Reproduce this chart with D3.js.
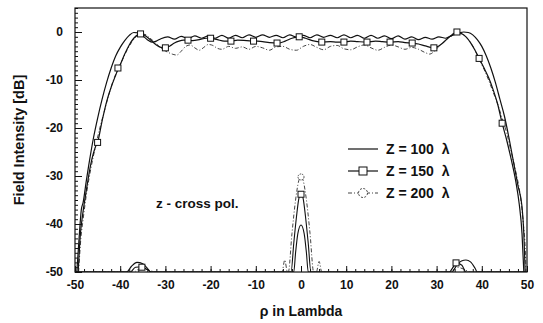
<!DOCTYPE html>
<html>
<head>
<meta charset="utf-8">
<script src="https://cdn.jsdelivr.net/npm/d3@7"></script>
<style>
  body { margin: 0; background: #fff; }
  text { font-family: "Liberation Sans", Arial, sans-serif; font-weight: bold; fill: #111; }
</style>
</head>
<body>
<script>
// co-polar curves (rho in lambda, field in dB)
var rho100 = [-49.6,-49.1,-48.6,-48.2,-47.5,-47,-46,-45,-44,-43,-42,-41,-40,-39,-38,-37,-36,-35,-34,-33,-32,-31,-29.5,-28,-26.5,-25,-23.5,-22,-20.5,-19,-17.5,-16,-14.5,-13,-11.5,-10,-8.5,-7,-5.5,-4,-2.5,-1,0.5,2,3.5,5,6.5,8,9.5,11,12.5,14,15.5,17,18.5,20,21.5,23,24.5,26,27.5,29,30.5,32,33,34,35,36,37,38,39,40,41,42,43,44,45,46,47,48,48.9,49.3,49.6];
var db100 = [-50,-43,-37,-35.5,-31,-28,-22.5,-18,-14,-10.5,-7.5,-5,-3.2,-1.8,-0.7,-0.1,-0.2,-0.8,-1.6,-2.1,-1.9,-1.4,-1.0,-1.5,-0.9,-1.4,-0.8,-1.3,-0.8,-1.3,-0.7,-1.3,-0.7,-1.2,-0.6,-1.1,-0.6,-1.1,-0.7,-1.2,-0.6,-1.1,-0.7,-1.2,-0.6,-1.1,-0.7,-1.2,-0.6,-1.2,-0.7,-1.3,-0.7,-1.3,-0.8,-1.4,-0.8,-1.5,-1.0,-1.6,-1.1,-1.5,-1.0,-1.3,-0.9,-0.5,-0.2,0,-0.1,-0.6,-1.6,-3.0,-5,-7.5,-10.5,-14,-17.5,-22,-27,-32,-36.4,-42,-50];

var rho150 = [-49.3,-48.8,-48.3,-47.5,-46.5,-45.5,-45,-44,-43,-42,-41,-40.5,-40,-39,-38,-37,-36,-35.5,-35,-34,-33,-32,-31,-30,-29,-28,-27,-26,-25,-24,-22.5,-21,-20,-18.5,-17,-15.5,-14,-12,-10,-8.5,-7,-5,-3.5,-2,-0.5,1,2.5,4.5,6.5,8,9.5,11,12.5,14.5,16.5,18,19.7,21.5,23,24.6,26,27.5,29.4,30.5,31.5,32.5,33.5,34.5,35.5,36.5,37.5,38.5,39.4,40.5,41.5,42.5,43.5,44.5,45.5,46.5,47.5,48.3,48.9,49.3];
var db150 = [-50,-42,-38,-33,-27.5,-24,-23,-18.5,-14.5,-11.5,-9,-7.8,-6.8,-4.6,-2.7,-1.3,-0.5,-0.4,-0.5,-1.1,-1.9,-2.7,-3.2,-3.3,-2.9,-2.3,-1.9,-1.7,-1.7,-1.8,-1.6,-1.3,-1.3,-1.6,-1.9,-1.9,-1.7,-1.8,-1.9,-2.0,-2.2,-2.3,-1.9,-1.3,-1.0,-1.3,-1.8,-2.1,-2.0,-2.1,-2.1,-1.9,-2.0,-2.1,-1.9,-2.0,-2.1,-2.0,-2.2,-2.3,-2.5,-2.9,-3.3,-2.9,-2.2,-1.3,-0.5,0,-0.3,-1.0,-2.2,-3.8,-5.5,-7.5,-9.5,-12,-15,-19,-22.5,-26.5,-31,-36,-42,-50];

var rho200 = [-49.2,-48.7,-48.2,-47.5,-46.5,-45.5,-44.5,-43.5,-42.5,-41.5,-40.5,-39.5,-38.5,-37.5,-36.5,-35.5,-34.5,-33.5,-32.5,-31.5,-30.5,-29.5,-28.5,-27.5,-26.5,-25.5,-24.5,-23.5,-22.5,-21.5,-20.5,-19.5,-18.5,-17.5,-16,-14.5,-13,-11.5,-10,-8.5,-7,-5.5,-4,-2.5,-1,0.5,2,3.5,5,6.5,8,9.5,11,12.5,14,15.5,17,18.5,20,21.5,23,24.5,26,27.5,28.5,29.5,30.5,31.5,32.5,33.5,34.5,35.5,36.5,37.5,38.5,39.5,40.5,41.5,42.5,43.5,44.5,45.5,46.5,47.5,48.5,49.2,49.6,49.8];
var db200 = [-50,-43,-39,-34,-28.5,-24,-20,-16.5,-13,-10,-7.8,-5.8,-3.8,-2.2,-1.0,-0.4,-0.5,-1.2,-2.0,-2.9,-3.7,-4.2,-4.6,-4.8,-4.0,-3.0,-2.7,-3.3,-3.8,-3.2,-2.6,-2.8,-3.4,-3.6,-3.0,-3.4,-3.1,-3.6,-3.0,-3.3,-3.8,-3.1,-3.0,-3.6,-3.8,-3.0,-2.6,-3.2,-3.7,-3.0,-2.8,-3.5,-3.7,-3.1,-2.7,-3.3,-3.8,-3.2,-2.7,-3.1,-3.6,-3.2,-3.6,-4.3,-4.6,-4.0,-3.0,-2.1,-1.3,-0.7,-0.3,-0.4,-1.0,-2.2,-3.8,-5.8,-7.8,-10,-12.5,-15,-18,-21,-25,-29,-34,-40,-45,-50];

// cross-polar curves
var rhoX100 = [-50,-38.6,-37.5,-36.3,-35,-34,-33.3,-1.6,-1.2,-0.7,0,0.7,1.2,1.6,33.4,34.5,35.5,36.5,37.5,38.5,39,50];
var dbX100 = [-50,-50,-48.8,-48.0,-48.3,-49.2,-50,-50,-46,-42,-40.2,-42,-46,-50,-50,-48.5,-47.7,-47.5,-47.9,-49.2,-50,-50];
var rhoX150 = [-50,-37.8,-36.6,-35.2,-34,-33,-2.2,-1.6,-1,-0.5,0,0.5,1,1.6,2.2,32.8,33.8,34.6,35.6,36.5,50];
var dbX150 = [-50,-50,-49,-48.9,-49.5,-50,-50,-44,-38.5,-34.8,-33.6,-34.8,-38.5,-44,-50,-50,-48.8,-48.2,-48.6,-50,-50];
var rhoX200 = [-50,-37,-35.5,-34,-32,-4.2,-3.6,-3.0,-2.8,-2,-1.2,-0.5,0,0.5,1.2,2,2.8,3.4,4,4.6,33,34.5,36,37.5,50];
var dbX200 = [-50,-50,-49.2,-49.5,-50,-50,-47.5,-50,-50,-42,-35,-31,-30,-31,-35,-42,-50,-50,-47.8,-50,-50,-49,-49.4,-50,-50];

// square markers on Z = 150
var markRho150 = [-45,-40.5,-35.5,-30,-25,-20,-15.5,-10.5,-5.3,-0.4,4.6,9.5,14.6,19.7,24.6,29.4,34.5,39.4,44.5,-35.2,0,34.3];
var markDb150 = [-23,-7.5,-0.4,-3.3,-1.7,-1.3,-1.9,-1.9,-2.3,-1.0,-2.1,-2.1,-2.1,-2.1,-2.3,-3.3,0,-5.5,-19,-49,-33.8,-48.1];
var markRho200 = [0];
var markDb200 = [-30.2];

var xTicks = [-50,-40,-30,-20,-10,0,10,20,30,40,50];
var yTicks = [-50,-40,-30,-20,-10,0];
var legendLabels = ["Z = 100  \u03bb", "Z = 150  \u03bb", "Z = 200  \u03bb"];

var w = 543, h = 323;
var plotLeft = 75, plotRight = 527, plotTop = 8, plotBottom = 272;

var svg = d3.select("body").append("svg")
  .attr("width", w)
  .attr("height", h);

var x = d3.scaleLinear().domain([-50, 50]).range([plotLeft, plotRight]);
var y = d3.scaleLinear().domain([-50, 5]).range([plotBottom, plotTop]);

svg.append("clipPath").attr("id", "plot")
  .append("rect")
  .attr("x", plotLeft).attr("y", plotTop)
  .attr("width", plotRight - plotLeft).attr("height", plotBottom - plotTop);

drawAxes();
drawCurves();
drawLegend();

function plainNumber(d) {
  return String(d);  // keep ascii hyphen like the original
}

function drawAxes() {
  var minorX = d3.range(-50, 51, 2);
  var minorY = d3.range(-50, 6, 1);

  svg.append("g")
    .attr("transform", "translate(0," + plotBottom + ")")
    .call(d3.axisBottom(x).tickValues(minorX).tickSize(-3).tickFormat(""));
  var gx = svg.append("g")
    .attr("transform", "translate(0," + plotBottom + ")")
    .call(d3.axisBottom(x).tickValues(xTicks).tickSize(-6).tickPadding(8).tickFormat(plainNumber));

  svg.append("g")
    .attr("transform", "translate(" + plotLeft + ",0)")
    .call(d3.axisLeft(y).tickValues(minorY).tickSize(-3).tickFormat(""));
  var gy = svg.append("g")
    .attr("transform", "translate(" + plotLeft + ",0)")
    .call(d3.axisLeft(y).tickValues(yTicks).tickSize(-7).tickPadding(12).tickFormat(plainNumber));

  svg.selectAll(".domain").remove();
  svg.selectAll(".tick line").attr("stroke", "#111");
  gx.selectAll("text").attr("font-size", "12px").attr("font-family", null);
  gy.selectAll("text").attr("font-size", "12px").attr("font-family", null);

  svg.append("rect")
    .attr("x", plotLeft).attr("y", plotTop)
    .attr("width", plotRight - plotLeft).attr("height", plotBottom - plotTop)
    .attr("fill", "none")
    .attr("stroke", "#111")
    .attr("stroke-width", 1.2);

  svg.append("text")
    .attr("transform", "translate(24," + (plotTop + plotBottom) / 2 + ") rotate(-90)")
    .attr("text-anchor", "middle")
    .attr("font-size", "14.5px")
    .text("Field Intensity [dB]");

  svg.append("text")
    .attr("x", x(0))
    .attr("y", 316)
    .attr("text-anchor", "middle")
    .attr("font-size", "14px")
    .text("\u03c1 in Lambda");

  svg.append("text")
    .attr("x", 156)
    .attr("y", 208)
    .attr("font-size", "13.5px")
    .text("z - cross pol.");
}

function toPoints(rs, ds) {
  return rs.map(function(r, i) { return [r, ds[i]]; });
}

function drawCurves() {
  var line = d3.line()
    .x(function(d) { return x(d[0]); })
    .y(function(d) { return y(d[1]); })
    .curve(d3.curveMonotoneX);

  var g = svg.append("g").attr("clip-path", "url(#plot)");

  var series = [
    { pts: toPoints(rho200, db200), color: "#444", width: 1, dash: "4,2,1,2" },
    { pts: toPoints(rhoX200, dbX200), color: "#444", width: 1, dash: "4,2,1,2" },
    { pts: toPoints(rho150, db150), color: "#111", width: 1.2, dash: null },
    { pts: toPoints(rhoX150, dbX150), color: "#111", width: 1.1, dash: null },
    { pts: toPoints(rho100, db100), color: "#111", width: 1.2, dash: null },
    { pts: toPoints(rhoX100, dbX100), color: "#111", width: 1.1, dash: null }
  ];

  g.selectAll("path.curve")
    .data(series)
    .enter()
    .append("path")
    .classed("curve", true)
    .attr("d", function(d) { return line(d.pts); })
    .attr("fill", "none")
    .attr("stroke", function(d) { return d.color; })
    .attr("stroke-width", function(d) { return d.width; })
    .attr("stroke-dasharray", function(d) { return d.dash; });

  g.selectAll("rect.mark")
    .data(toPoints(markRho150, markDb150))
    .enter()
    .append("rect")
    .classed("mark", true)
    .attr("x", function(d) { return x(d[0]) - 3; })
    .attr("y", function(d) { return y(d[1]) - 3; })
    .attr("width", 6)
    .attr("height", 6)
    .attr("fill", "#fff")
    .attr("stroke", "#111")
    .attr("stroke-width", 1);

  g.selectAll("circle.mark")
    .data(toPoints(markRho200, markDb200))
    .enter()
    .append("circle")
    .classed("mark", true)
    .attr("cx", function(d) { return x(d[0]); })
    .attr("cy", function(d) { return y(d[1]); })
    .attr("r", 3)
    .attr("fill", "#fff")
    .attr("stroke", "#444")
    .attr("stroke-dasharray", "1.5,1");
}

function drawLegend() {
  var rows = [149, 171, 193];
  var lg = svg.append("g");

  lg.selectAll("line")
    .data(rows)
    .enter()
    .append("line")
    .attr("x1", 348).attr("x2", 378)
    .attr("y1", function(d) { return d; })
    .attr("y2", function(d) { return d; })
    .attr("stroke", function(d, i) { return i == 2 ? "#444" : "#111"; })
    .attr("stroke-width", function(d, i) { return i == 2 ? 1 : 1.2; })
    .attr("stroke-dasharray", function(d, i) { return i == 2 ? "4,2,1,2" : null; });

  lg.append("rect")
    .attr("x", 359).attr("y", rows[1] - 4)
    .attr("width", 8).attr("height", 8)
    .attr("fill", "#fff").attr("stroke", "#111");

  lg.append("circle")
    .attr("cx", 363).attr("cy", rows[2]).attr("r", 4.5)
    .attr("fill", "#fff").attr("stroke", "#444")
    .attr("stroke-dasharray", "2,1.5");

  lg.selectAll("text")
    .data(legendLabels)
    .enter()
    .append("text")
    .attr("x", 386)
    .attr("y", function(d, i) { return rows[i] + 5; })
    .attr("font-size", "14px")
    .style("white-space", "pre")
    .text(function(d) { return d; });
}
</script>
</body>
</html>
